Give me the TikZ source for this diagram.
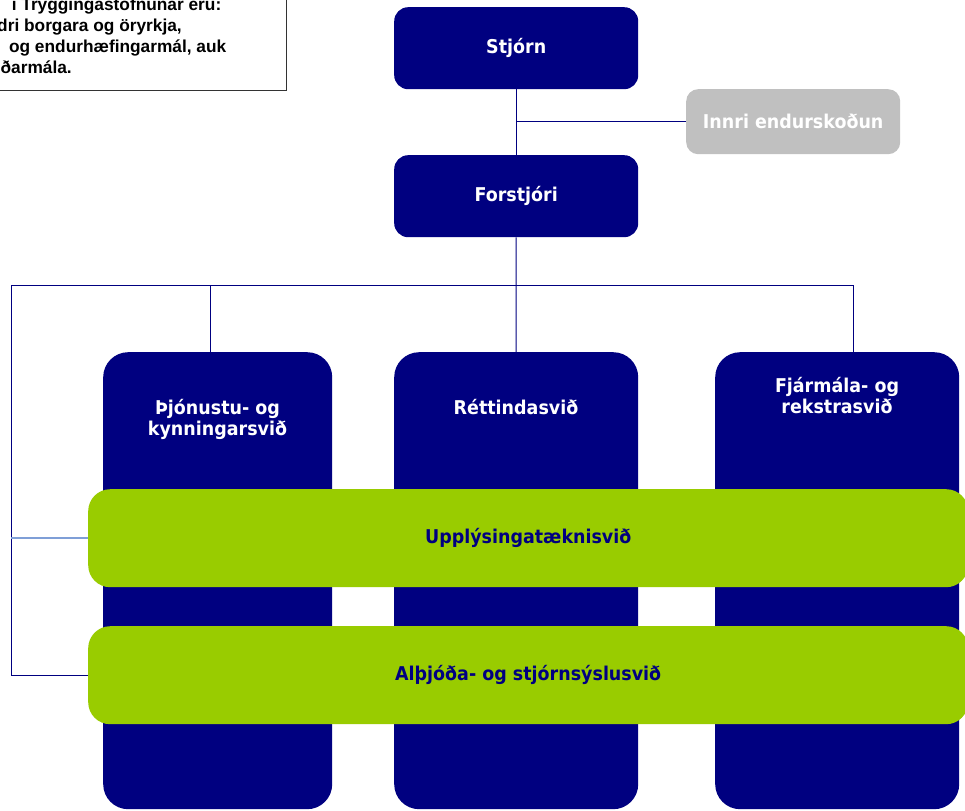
\documentclass[tikz,border=0pt]{standalone}
\usepackage{fontspec}
\setmainfont{Liberation Sans}
\newfontfamily\boxfont{DejaVu Sans}[FakeStretch=0.92]
\definecolor{navy}{HTML}{000080}
\definecolor{lime}{HTML}{99CC00}
\definecolor{greybox}{HTML}{C0C0C0}
\definecolor{lightline}{HTML}{7F9FD7}
\definecolor{frame}{HTML}{333333}
\begin{document}
\begin{tikzpicture}[x=1pt,y=-1pt,
  boxbase/.style={draw=none, inner sep=0pt, anchor=north west, align=center,
    font=\boxfont\bfseries\fontsize{19}{21}\selectfont},
  topbox/.style={boxbase, fill=navy, text=white, rounded corners=14pt},
  greybx/.style={boxbase, fill=greybox, text=white, rounded corners=12pt},
  column/.style={boxbase, fill=navy, rounded corners=25pt},
  band/.style={boxbase, fill=lime, text=navy, rounded corners=22pt},
  collabel/.style={anchor=base, align=center, text=white, inner sep=0pt,
    font=\boxfont\bfseries\fontsize{19}{21}\selectfont},
  introtext/.style={anchor=base east, inner sep=0pt,
    font=\bfseries\fontsize{17.3}{21}\selectfont},
  conn/.style={draw=navy, line width=1pt},
  lightconn/.style={draw=lightline, line width=1.5pt}]
\useasboundingbox (0,0) rectangle (965,810);
\fill[white] (0,0) rectangle (965,810);

% intro text box (clipped at the page edge)
\node[draw=frame, line width=1pt, inner sep=0pt, anchor=north west,
  minimum width=306pt, minimum height=110pt] (intro) at (-20,-20) {};
\node[introtext] (intro1) at (221.5,11) {i Tryggingastofnunar eru:};
\node[introtext] (intro2) at (182,32) {dri borgara og öryrkja,};
\node[introtext] (intro3) at (226.5,53) {og endurhæfingarmál, auk};
\node[introtext] (intro4) at (72,74) {ðarmála.};

% top boxes
\node[topbox, minimum width=244pt, minimum height=82pt] (stjorn) at (394,7) {Stjórn};
\node[greybx, minimum width=214pt, minimum height=65pt] (innri) at (686,89) {Innri endurskoðun};
\node[topbox, minimum width=244pt, minimum height=82pt] (forstjori) at (394,155) {Forstjóri};

% columns
\node[column, minimum width=229pt, minimum height=457pt] (col1) at (103,352) {};
\node[column, minimum width=244pt, minimum height=457pt] (col2) at (394,352) {};
\node[column, minimum width=244pt, minimum height=457pt] (col3) at (715,352) {};
\node[collabel] (col1text) at (217.5,435) {Þjónustu- og\\kynningarsvið};
\node[collabel] (col2text) at (516,414) {Réttindasvið};
\node[collabel] (col3text) at (837,413) {Fjármála- og\\rekstrasvið};

% bands
\node[band, minimum width=880pt, minimum height=98pt] (green1) at (88,489) {Upplýsingatæknisvið};
\node[band, minimum width=880pt, minimum height=98pt] (green2) at (88,626) {Alþjóða- og stjórnsýslusvið};

% connectors
\coordinate (bus) at (516,285);
\coordinate (busL) at (11,285);
\coordinate (busR) at (853,285);
\coordinate (b1) at (210,285);
\draw[conn] (stjorn.south) -- (forstjori.north);
\draw[conn] (stjorn.south |- innri.west) -- (innri.west);
\draw[conn] (forstjori.south) -- (bus);
\draw[conn] (busL) -- (busR);
\draw[conn] (b1) -- (b1 |- col1.north);
\draw[conn] (bus) -- (col2.north);
\draw[conn] (busR) -- (busR |- col3.north);
\draw[conn] (busL) |- (green2.west);
\draw[lightconn] (busL |- green1.west) -- (green1.west);
\end{tikzpicture}
\end{document}
